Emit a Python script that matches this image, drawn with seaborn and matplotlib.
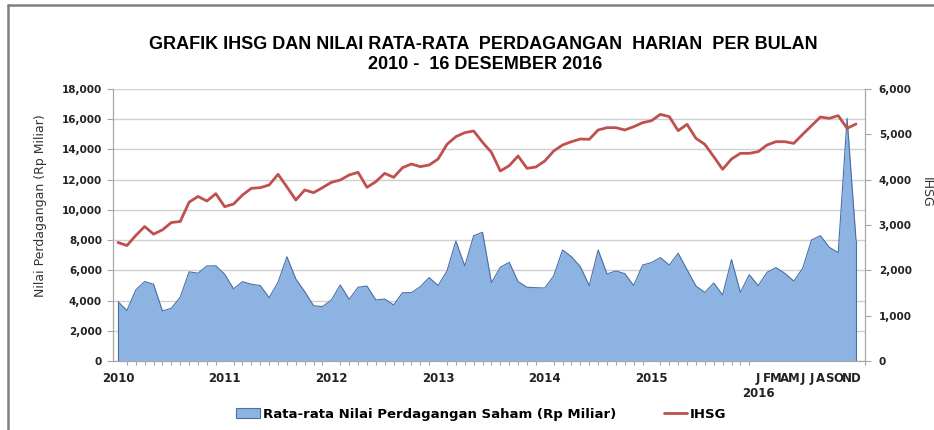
import matplotlib
matplotlib.use('Agg')
import matplotlib.pyplot as plt
import seaborn as sns
import pandas as pd
from matplotlib.patches import Patch
from matplotlib.lines import Line2D

# ========== Data ==========

tahun = [2010, 2011, 2012, 2013, 2014, 2015]
bulan_2016 = ['J', 'F', 'M', 'A', 'M', 'J', 'J', 'A', 'S', 'O', 'N', 'D']

# rata-rata nilai perdagangan harian (Rp Miliar), Jan 2010 - Des 2016
nilai = [3930, 3340, 4700, 5260, 5080, 3310, 3490, 4220, 5900, 5810, 6290, 6300,
         5740, 4770, 5250, 5080, 4990, 4190, 5210, 6900, 5430, 4590, 3660, 3600,
         4040, 5030, 4080, 4880, 4960, 4040, 4100, 3710, 4520, 4520, 4920, 5520,
         4990, 5960, 7940, 6290, 8290, 8520, 5180, 6200, 6530, 5250, 4880, 4850,
         4830, 5630, 7350, 6900, 6240, 4990, 7350, 5760, 5960, 5780, 4990, 6350,
         6510, 6840, 6350, 7130, 6040, 4960, 4540, 5160, 4370, 6710, 4540, 5710,
         4990, 5870, 6180, 5800, 5290, 6130, 8010, 8290, 7520, 7170, 16060, 8010]

# IHSG penutupan bulanan
ihsg = [2614, 2547, 2768, 2967, 2798, 2893, 3055, 3077, 3504, 3630, 3529, 3691,
        3404, 3463, 3662, 3809, 3824, 3882, 4118, 3840, 3551, 3772, 3713, 3824,
        3941, 3993, 4103, 4162, 3831, 3956, 4140, 4051, 4265, 4346, 4287, 4324,
        4456, 4779, 4949, 5037, 5074, 4824, 4603, 4191, 4309, 4522, 4250, 4279,
        4412, 4632, 4765, 4838, 4897, 4890, 5096, 5147, 5147, 5096, 5169, 5257,
        5301, 5441, 5390, 5081, 5221, 4912, 4779, 4507, 4228, 4456, 4581, 4581,
        4618, 4765, 4838, 4838, 4801, 5000, 5191, 5382, 5353, 5412, 5132, 5228]

df = pd.DataFrame({'bulan': range(len(nilai)), 'nilai': nilai, 'ihsg': ihsg})

BIRU = '#8DB3E2'
BIRU_TEPI = '#4A6FA5'
MERAH = '#C0504D'
GRID = '#D0D0D0'
SUMBU = '#A6A6A6'

# ========== Plot ==========

sns.set_theme(style='white')
plt.rcParams['font.family'] = ['DejaVu Sans']

fig = plt.figure(figsize=(9.34, 4.30), dpi=100)
ax = fig.add_axes([0.121, 0.1605, 0.805, 0.6325])

ax.fill_between(df['bulan'], 0, df['nilai'], color=BIRU, linewidth=0, zorder=2)
sns.lineplot(data=df, x='bulan', y='nilai', ax=ax, color=BIRU_TEPI, linewidth=0.8, zorder=3)
ax.vlines([df['bulan'].iloc[0], df['bulan'].iloc[-1]], 0,
          [df['nilai'].iloc[0], df['nilai'].iloc[-1]], color=BIRU_TEPI, linewidth=0.8, zorder=3)

ax.set_ylim(0, 18000)
ax.set_xlim(-0.56, 83.4)
ax.set_yticks(range(0, 18001, 2000))
ax.set_yticklabels([f'{v:,}' for v in range(0, 18001, 2000)])
ax.yaxis.grid(True, color=GRID, linewidth=1.0, zorder=0)
ax.set_axisbelow(True)

ax.set_ylabel('Nilai Perdagangan (Rp Miliar)', fontsize=9, color='#333333', labelpad=10)
ax.yaxis.set_label_coords(-0.088, 0.57)
ax.set_xlabel('')

pos_label = [12 * i for i in range(len(tahun))] + list(range(72, 84))
teks_label = [str(t) for t in tahun] + bulan_2016
ax.set_xticks(pos_label)
ax.set_xticklabels(teks_label, fontsize=8.5, fontweight='bold', color='#222222')
ax.set_xticks(range(0, 85), minor=True)
ax.tick_params(axis='x', which='major', length=0, pad=8)
ax.tick_params(axis='x', which='minor', length=3, color=SUMBU, width=0.8, bottom=True)
ax.tick_params(axis='y', which='major', length=4, color=SUMBU, width=0.8, left=True,
               labelsize=7.5, labelcolor='#222222', pad=4)
for lbl in ax.get_yticklabels():
    lbl.set_fontweight('bold')

ax.text(72, -0.118, '2016', transform=ax.get_xaxis_transform(), ha='center', va='center',
        fontsize=8.5, fontweight='bold', color='#222222')

for s in ['left', 'bottom', 'right']:
    ax.spines[s].set_color(SUMBU)
    ax.spines[s].set_linewidth(0.8)
ax.spines['top'].set_visible(False)

ax2 = ax.twinx()
sns.lineplot(data=df, x='bulan', y='ihsg', ax=ax2, color=MERAH, linewidth=2.0)
ax2.set_ylim(0, 6000)
ax2.set_yticks(range(0, 6001, 1000))
ax2.set_yticklabels([f'{v:,}' for v in range(0, 6001, 1000)])
ax2.tick_params(axis='y', which='major', length=4, color=SUMBU, width=0.8, right=True,
                labelsize=7.5, labelcolor='#222222', pad=6)
for lbl in ax2.get_yticklabels():
    lbl.set_fontweight('bold')
ax2.set_ylabel('IHSG', fontsize=9, color='#333333', rotation=270, labelpad=10)
ax2.yaxis.set_label_coords(1.09, 0.62)
ax2.set_xlabel('')
for s in ['left', 'bottom', 'right']:
    ax2.spines[s].set_color(SUMBU)
    ax2.spines[s].set_linewidth(0.8)
ax2.spines['top'].set_visible(False)
ax2.grid(False)

fig.text(0.517, 0.897, 'GRAFIK IHSG DAN NILAI RATA-RATA  PERDAGANGAN  HARIAN  PER BULAN',
         ha='center', va='center', fontsize=13, fontweight='bold', color='black',
         family=['Liberation Sans'])
fig.text(0.519, 0.851, '2010 -  16 DESEMBER 2016',
         ha='center', va='center', fontsize=13, fontweight='bold', color='black',
         family=['Liberation Sans'])

handles = [Patch(facecolor=BIRU, edgecolor=BIRU_TEPI, linewidth=0.8),
           Line2D([0], [0], color=MERAH, linewidth=2.0)]
leg = fig.legend(handles, ['Rata-rata Nilai Perdagangan Saham (Rp Miliar)', 'IHSG'],
                 loc='center', bbox_to_anchor=(0.5155, 0.037), ncol=2, frameon=False,
                 handlelength=1.8, handletextpad=0.2, columnspacing=3.6,
                 prop={'weight': 'bold', 'size': 9.5})
for t in leg.get_texts():
    t.set_color('black')

# bingkai luar
fig.add_artist(Line2D([0.009, 1.0], [0.988, 0.988], transform=fig.transFigure, color='#7F7F7F', linewidth=1.8))
fig.add_artist(Line2D([0.009, 0.009], [0.0, 0.988], transform=fig.transFigure, color='#7F7F7F', linewidth=1.8))

fig.savefig('out.png', dpi=100)
plt.close(fig)
